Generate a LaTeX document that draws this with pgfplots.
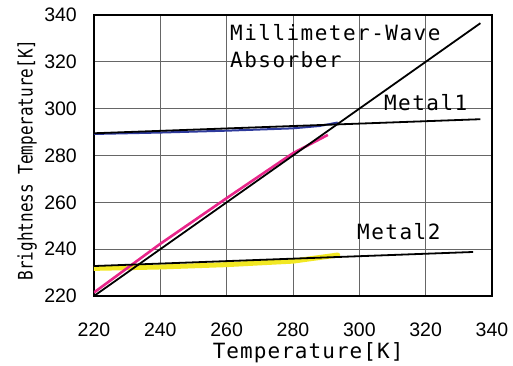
\documentclass[border=0pt]{standalone}
\usepackage{fontspec}
\usepackage{pgfplots}
\pgfplotsset{compat=1.18}
\setmainfont{Liberation Sans}
\newfontfamily\gothic[LetterSpace=7]{DejaVu Sans Mono}
\newfontfamily\gothicx[LetterSpace=5]{DejaVu Sans Mono}
\newfontfamily\gothicnarrow[FakeStretch=0.8]{DejaVu Sans Mono}
\definecolor{pinkline}{HTML}{E8268A}
\definecolor{blueline}{HTML}{2E3A9C}
\definecolor{yellowline}{HTML}{F2E823}
\begin{document}
\begin{tikzpicture}
\begin{axis}[
  at={(0,0)}, anchor=south west,
  scale only axis, width=398pt, height=281pt,
  xmin=220, xmax=340, ymin=220, ymax=340,
  xtick={220,240,...,340}, ytick={220,240,...,340},
  grid=major,
  major grid style={color=black!60, line width=0.9pt},
  axis line style={line width=1.3pt},
  major tick length=0pt,
  /pgf/number format/assume math mode=true,
  ticklabel style={font=\fontsize{19.5}{19.5}\selectfont, inner sep=0pt},
  yticklabel style={anchor=east, xshift=-17pt},
  xticklabel style={anchor=north, yshift=-27pt},
  xlabel={\gothicx\fontsize{21}{21}\selectfont Temperature[K]},
  xlabel style={at={(axis description cs:0.538,-0.203)}, anchor=center, inner sep=0pt},
  ylabel={\gothicnarrow\fontsize{20}{20}\selectfont Brightness Temperature[K]},
  ylabel style={at={(axis description cs:-0.168,0.484)}, anchor=center, inner sep=0pt},
  clip=true,
]
% measured data (coloured)
\addplot[yellowline, line width=5pt, line cap=round] coordinates {(220,231.8) (240,232.4) (260,233.4) (280,234.9) (293.5,237.5)};
\addplot[blueline, line width=2pt] coordinates {(220,289.2) (240,289.8) (260,290.6) (280,291.6) (288,292.6) (293.5,294.1)};
\addplot[pinkline, line width=2.6pt] coordinates {(220,221.5) (240,242.3) (260,261.8) (280,281.0) (290.5,288.8)};
% fitted lines
\addplot[black, line width=1.8pt] coordinates {(220,220) (336.5,336.5)};
\addplot[black, line width=1.8pt] coordinates {(220,289.5) (336.5,295.5)};
\addplot[black, line width=1.8pt] coordinates {(220,232.8) (334.3,238.8)};
\node[anchor=west, inner sep=0pt, font=\gothic\fontsize{21}{21}\selectfont] at (axis cs:261.0,332.3) {Millimeter-Wave};
\node[anchor=west, inner sep=0pt, font=\gothic\fontsize{21}{21}\selectfont] at (axis cs:261.0,320.8) {Absorber};
\node[anchor=west, inner sep=0pt, font=\gothic\fontsize{21}{21}\selectfont] at (axis cs:307.4,302.4) {Metal1};
\node[anchor=west, inner sep=0pt, font=\gothic\fontsize{21}{21}\selectfont] at (axis cs:299.3,247.3) {Metal2};
\end{axis}
\pgfresetboundingbox
\path[use as bounding box] (-94pt,-69pt) rectangle (419pt,296pt);
\end{tikzpicture}
\end{document}
